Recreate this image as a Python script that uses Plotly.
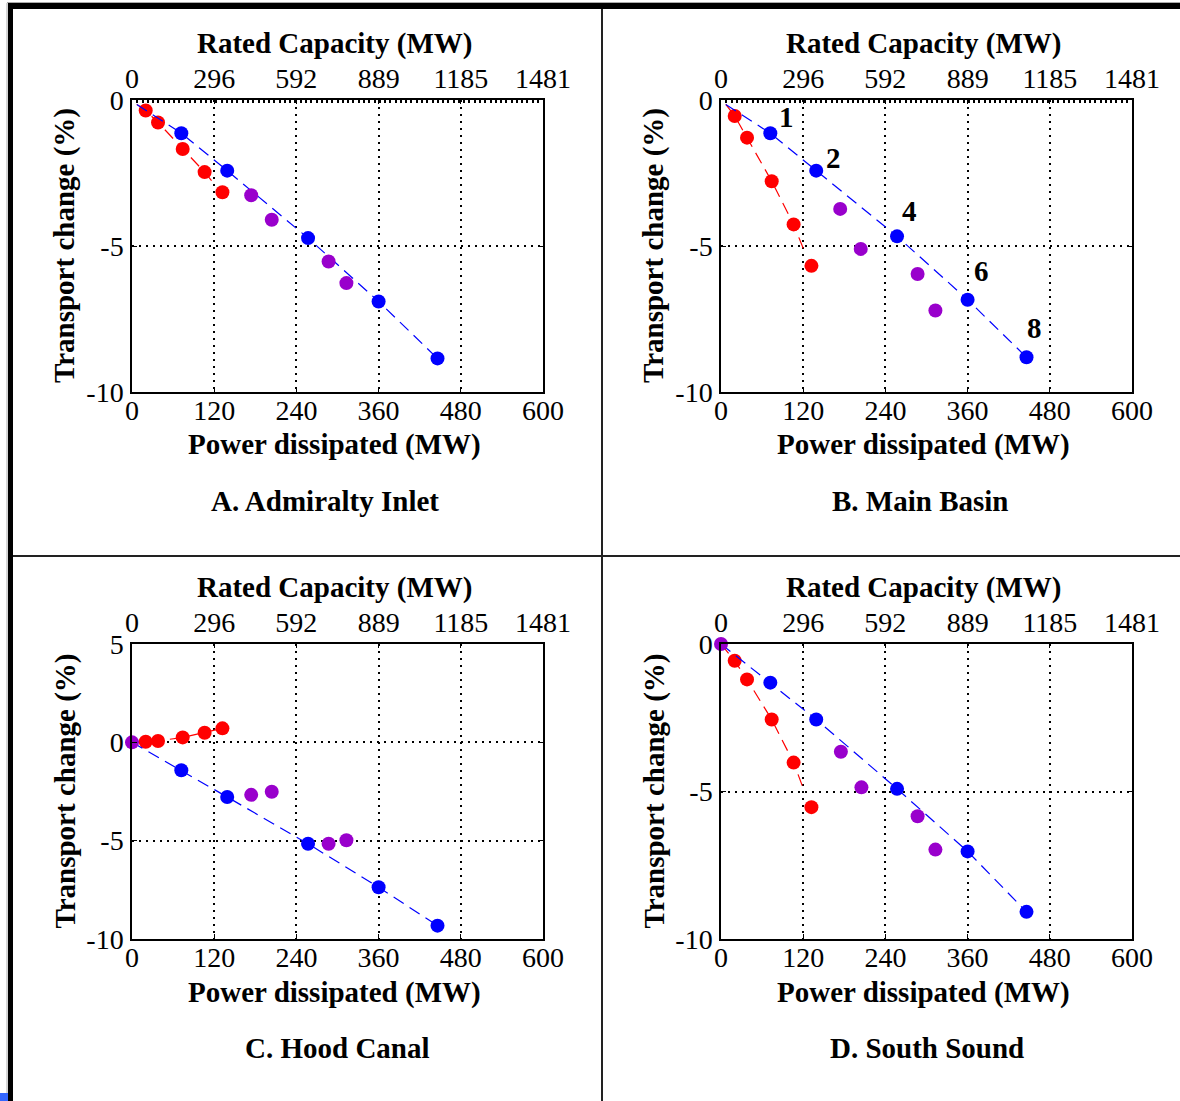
import plotly.graph_objects as go

W, H = 1180, 1101

#Power dissipated (MW) for the three scenario groups
red_x = [20, 38, 74, 106, 132]
blue_x = [72, 139, 257, 360, 446]
purple_x = [174, 204, 287, 313]

#Axis ticks
power_ticks = [0, 120, 240, 360, 480, 600]
rated_ticks = [0, 296, 592, 889, 1185, 1481]

#Number of turbines next to the blue points (panel B)
turbines = ['1', '2', '4', '6', '8']

#A. Admiralty Inlet
a_red_y = [-0.36, -0.77, -1.68, -2.47, -3.16]
a_blue_y = [-1.14, -2.42, -4.73, -6.90, -8.85]
a_purple_y = [-3.26, -4.10, -5.53, -6.27]

#B. Main Basin
b_red_y = [-0.55, -1.29, -2.78, -4.26, -5.68]
b_blue_y = [-1.14, -2.42, -4.67, -6.84, -8.81]
b_purple_y = [-3.73, -5.10, -5.96, -7.21]

#C. Hood Canal
c_red_y = [0.03, 0.07, 0.25, 0.49, 0.71]
c_blue_y = [-1.42, -2.78, -5.16, -7.37, -9.32]
c_purple_x = [0, 174, 204, 287, 313]
c_purple_y = [0, -2.67, -2.51, -5.16, -4.98]

#D. South Sound
d_red_y = [-0.57, -1.20, -2.56, -4.02, -5.53]
d_blue_y = [-1.31, -2.56, -4.91, -7.03, -9.08]
d_purple_x = [0, 175, 205, 287, 313]
d_purple_y = [0, -3.65, -4.86, -5.84, -6.97]

#Where the dashed lines start and where the red one stops
ab_line_start = (7, -0.15)
cd_line_start = (0, 0)
a_red_end = (120, -2.87)
b_red_end = (120, -5.08)
d_red_end = (121, -4.95)

RED = '#ff0000'
BLUE = '#0000ff'
PURPLE = '#9900cc'
FONT = 'Liberation Serif'


def px_x(p):
    return p / W


def px_y(p):
    return 1 - p / H


#Dashed line + markers for one colour
def add_series(fig, xs, ys, color, xa, ya, line=None):
    if line is not None:
        fig.add_trace(go.Scatter(
            x=line[0], y=line[1], mode='lines',
            line=dict(color=color, width=1.2, dash='12px,7px'),
            xaxis=xa, yaxis=ya, showlegend=False, hoverinfo='skip'
        ))
    fig.add_trace(go.Scatter(
        x=xs, y=ys, mode='markers',
        marker=dict(color=color, size=14),
        cliponaxis=False,
        xaxis=xa, yaxis=ya, showlegend=False, hoverinfo='skip'
    ))


#One panel: axes, data, titles
#i - panel number, dx/dy - domain in pixels
#label_dx - small horizontal shift of the panel label
#top_dots - dotted grid line sitting on the top edge
def add_panel(fig, i, dx, dy, red_y, blue_y, pur_x, pur_y,
              start, red_end, y_ticks, label, label_dx=0, top_dots=False):

    xa, ya, xt = f'x{i}', f'y{i}', f'x{i + 4}'
    dom_x = [px_x(dx[0]), px_x(dx[1])]
    dom_y = [px_y(dy[1]), px_y(dy[0])]

    #Lines start near origin and follow the points
    if red_end is None:
        red_line = ([start[0]] + red_x, [start[1]] + red_y)
    else:
        keep = [k for k, v in enumerate(red_x) if v < red_end[0]]
        red_line = ([start[0]] + [red_x[k] for k in keep] + [red_end[0]],
                    [start[1]] + [red_y[k] for k in keep] + [red_end[1]])
    blue_line = ([start[0]] + blue_x, [start[1]] + blue_y)

    add_series(fig, red_x, red_y, RED, xa, ya, red_line)
    add_series(fig, blue_x, blue_y, BLUE, xa, ya, blue_line)
    add_series(fig, pur_x, pur_y, PURPLE, xa, ya)

    #Invisible trace so the top axis is drawn
    fig.add_trace(go.Scatter(
        x=rated_ticks, y=[None] * len(rated_ticks), mode='markers',
        xaxis=xt, yaxis=ya, showlegend=False, hoverinfo='skip'
    ))

    tick_font = dict(family=FONT, size=28, color='black')
    grid = dict(showgrid=True, gridcolor='black', gridwidth=1.5,
                griddash='2px,5px')

    fig.layout[f'xaxis{i}'] = dict(
        domain=dom_x, anchor=ya, range=[0, 600],
        tickvals=power_ticks, ticktext=[str(v) for v in power_ticks],
        ticks='inside', ticklen=5, tickcolor='black',
        showline=True, linecolor='black', linewidth=1.5, mirror=True,
        zeroline=False, tickfont=tick_font, ticklabelstandoff=-7,
        automargin=False, **grid
    )
    top = dict(
        overlaying=xa, anchor=ya, side='top', range=[0, 1481],
        tickvals=rated_ticks, ticktext=[str(v) for v in rated_ticks],
        ticks='inside', ticklen=4, tickcolor='black',
        showline=True, linecolor='black', linewidth=1.5,
        showgrid=False, zeroline=False, tickfont=tick_font,
        ticklabelstandoff=-1, automargin=False
    )
    if top_dots:
        top['minor'] = dict(tickmode='linear', tick0=0, dtick=19,
                            ticks='inside', ticklen=3, tickwidth=1.5,
                            tickcolor='black', showgrid=False)
    fig.layout[f'xaxis{i + 4}'] = top
    fig.layout[f'yaxis{i}'] = dict(
        domain=dom_y, anchor=xa, range=[y_ticks[0], y_ticks[-1]],
        tickvals=y_ticks, ticktext=[str(v) for v in y_ticks],
        ticks='inside', ticklen=5, tickcolor='black',
        showline=True, linecolor='black', linewidth=1.5, mirror='ticks',
        zeroline=False, tickfont=tick_font, ticklabelstandoff=1,
        automargin=False, **grid
    )

    cx = (dom_x[0] + dom_x[1]) / 2
    cy = (dom_y[0] + dom_y[1]) / 2
    title_font = dict(family=FONT, size=29, color='black')

    #Axis titles and panel label
    for text, yy, shift, sx in [('Rated Capacity (MW)', dom_y[1], 57, -3),
                                ('Power dissipated (MW)', dom_y[0], -53, -3),
                                (label, dom_y[0], -109, label_dx)]:
        fig.add_annotation(
            x=cx, y=yy, xref='paper', yref='paper', yshift=shift, xshift=sx,
            text=f'<b>{text}</b>', showarrow=False, font=title_font,
            xanchor='center', yanchor='middle'
        )
    fig.add_annotation(
        x=dom_x[0], y=cy, xref='paper', yref='paper', xshift=-67,
        text='<b>Transport change (%)</b>', showarrow=False,
        textangle=-90, font=title_font, xanchor='center', yanchor='middle'
    )


fig = go.Figure()

add_panel(fig, 1, (132, 543), (100, 392), a_red_y, a_blue_y, purple_x,
          a_purple_y, ab_line_start, a_red_end, [-10, -5, 0],
          'A. Admiralty Inlet', label_dx=-13, top_dots=True)
add_panel(fig, 2, (721, 1132), (100, 392), b_red_y, b_blue_y, purple_x,
          b_purple_y, ab_line_start, b_red_end, [-10, -5, 0],
          'B. Main Basin', label_dx=-7, top_dots=True)
add_panel(fig, 3, (132, 543), (644, 939), c_red_y, c_blue_y, c_purple_x,
          c_purple_y, cd_line_start, None, [-10, -5, 0, 5],
          'C. Hood Canal')
add_panel(fig, 4, (721, 1132), (644, 939), d_red_y, d_blue_y, d_purple_x,
          d_purple_y, cd_line_start, d_red_end, [-10, -5, 0],
          'D. South Sound')

#Turbine counts in panel B
shifts = [(16, 16), (17, 13), (12, 25), (14, 29), (8, 29)]
for t, xv, yv, (sx, sy) in zip(turbines, blue_x, b_blue_y, shifts):
    fig.add_annotation(
        x=xv, y=yv, xref='x2', yref='y2', xshift=sx, yshift=sy,
        text=f'<b>{t}</b>', showarrow=False,
        font=dict(family=FONT, size=29, color='black')
    )

#Frame of the figure
frame = [
    dict(type='rect', x0=px_x(8), x1=1, y0=px_y(9), y1=px_y(3),
         fillcolor='black', line_width=0),
    dict(type='rect', x0=px_x(8), x1=px_x(13), y0=0, y1=px_y(3),
         fillcolor='black', line_width=0),
    dict(type='line', x0=px_x(7), x1=px_x(7), y0=0, y1=px_y(3),
         line=dict(color='#aaaaaa', width=1)),
    dict(type='line', x0=px_x(7), x1=1, y0=px_y(2.5), y1=px_y(2.5),
         line=dict(color='#aaaaaa', width=1)),
    dict(type='line', x0=px_x(602), x1=px_x(602), y0=0, y1=px_y(9),
         line=dict(color='#222222', width=2)),
    dict(type='line', x0=px_x(13), x1=1, y0=px_y(556), y1=px_y(556),
         line=dict(color='#222222', width=2)),
    dict(type='rect', x0=0, x1=px_x(8), y0=0, y1=px_y(1093),
         fillcolor='#3366ff', line_width=0),
]
for s in frame:
    s.update(xref='paper', yref='paper')
    fig.add_shape(**s)

fig.update_layout(
    width=W, height=H,
    margin=dict(l=0, r=0, t=0, b=0, pad=0, autoexpand=False),
    paper_bgcolor='white', plot_bgcolor='white',
    showlegend=False
)

#Pin the figure to the window corner (no body margin)
fix_page = ("document.body.style.margin='0px';"
            "var d=document.getElementById('{plot_id}');"
            "d.style.position='fixed';d.style.left='0px';d.style.top='0px';")

fig.write_html("out.html", post_script=fix_page,
               config={'displayModeBar': False})
